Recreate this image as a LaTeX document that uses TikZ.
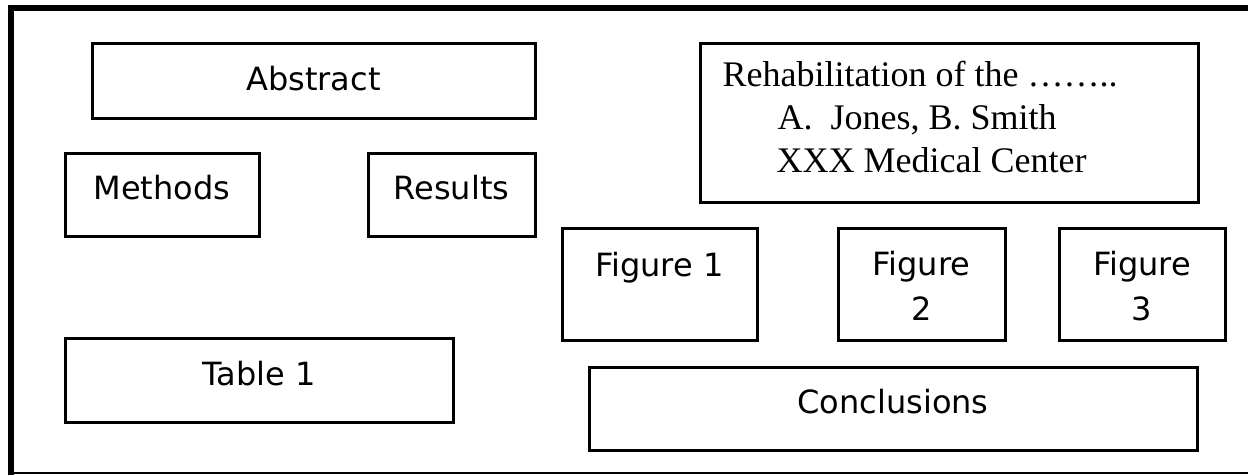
\documentclass[tikz,border=0pt]{standalone}
\usepackage{fontspec}
\setmainfont{Liberation Serif}
\newfontfamily\boxfont{DejaVu Sans}
\usetikzlibrary{positioning}

\tikzset{
  panel/.style={draw, line width=3pt, inner sep=0pt},
  paneltxt/.style={anchor=base, inner sep=0pt, align=center,
    font=\boxfont\fontsize{32}{45}\selectfont},
  titletxt/.style={anchor=base west, inner sep=0pt, align=left,
    font=\fontsize{36}{43}\selectfont}
}

\begin{document}
\begin{tikzpicture}[x=1pt,y=-1pt]

\useasboundingbox (0,0) rectangle (1248,475);
\fill[white] (0,0) rectangle (1248,475);

%% poster frame
    \draw[line width=6pt] (11,475) to (11,8) to (1248,8);
    \draw[line width=1.5pt] (11,473) to (1248,473);

%% left column
    \node[panel, minimum width=443pt, minimum height=75pt] (abstract) at (313.5,80.5) {};
    \node[panel, minimum width=194pt, minimum height=83pt] (methods) at (162,194.5) {};
    \node[panel, minimum width=167pt, minimum height=83pt] (results) at (451.5,194.5) {};
    \node[panel, minimum width=388pt, minimum height=84pt] (table) at (259,380) {};

    \node[paneltxt] (abstracttxt) at ([yshift=-49pt]abstract.north) {Abstract};
    \node[paneltxt] (methodstxt) at ([yshift=-48pt]methods.north) {Methods};
    \node[paneltxt] (resultstxt) at ([yshift=-48pt]results.north) {Results};
    \node[paneltxt] (tabletxt) at ([yshift=-49pt]table.north) {Table 1};

%% right column
    \node[panel, minimum width=498pt, minimum height=159pt] (title) at (949,122.5) {};
    % base of a multi-line node is its last line
    \node[titletxt] (titletxt) at ([xshift=24pt,yshift=-131pt]title.north west)
      {Rehabilitation of the ……..\\
       \hspace*{55pt}A.\ \ Jones, B. Smith\\
       \hspace*{54pt}XXX Medical Center};

    \node[panel, minimum width=195pt, minimum height=112pt] (fig1) at (659.5,284) {};
    \node[panel, minimum width=167pt, minimum height=112pt] (fig2) at (921.5,284) {};
    \node[panel, minimum width=166pt, minimum height=112pt] (fig3) at (1142,284) {};
    \node[panel, minimum width=608pt, minimum height=83pt] (concl) at (893,408.5) {};

    \node[paneltxt] (fig1txt) at ([yshift=-50pt]fig1.north) {Figure 1};
    \node[paneltxt] (fig2txt) at ([yshift=-94pt]fig2.north) {Figure\\2};
    \node[paneltxt] (fig3txt) at ([yshift=-94pt]fig3.north) {Figure\\3};
    \node[paneltxt] (concltxt) at ([yshift=-48pt]concl.north) {Conclusions};

\end{tikzpicture}
\end{document}
